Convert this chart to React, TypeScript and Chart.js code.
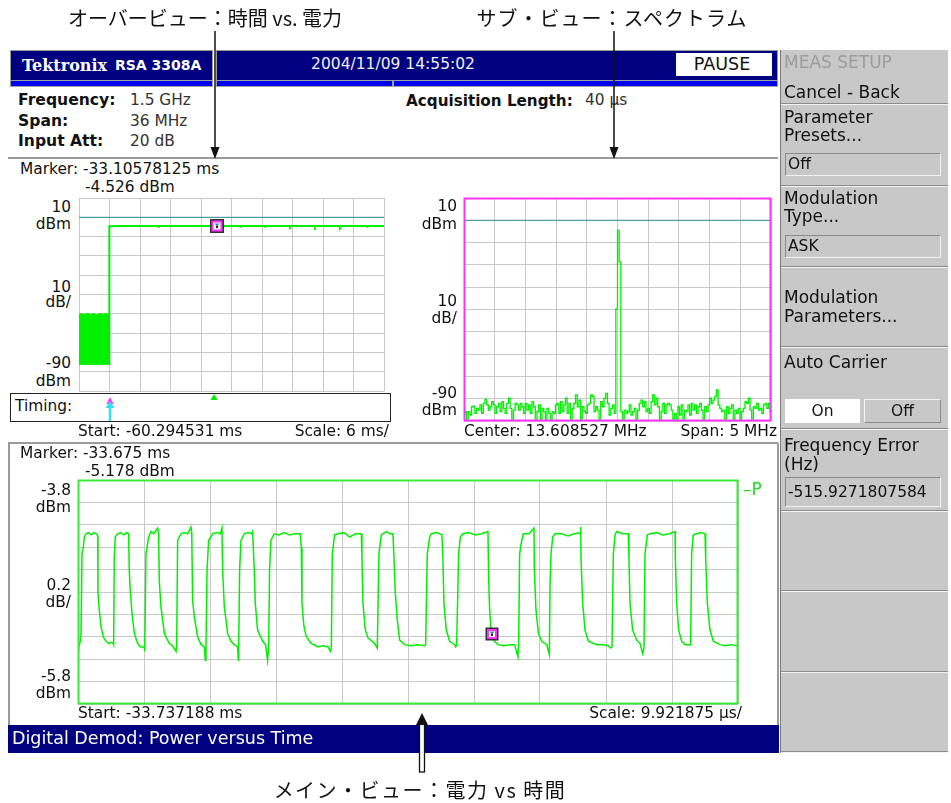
import React, { useEffect, useRef } from "react";
import { Chart, registerables } from "chart.js";
Chart.register(...registerables);

const GREEN = "#00f000";
const GRID = "#c8c8c8";
const TEAL = "#2f8f96";
const MAGENTA = "#ff33ff";
const NAVY = "#000080";

// ---------- Overview: time vs power ----------
const overviewStartMs = -60.294531;
const overviewMsPerDiv = 6;
const overviewTopDbm = 10;
const overviewDbPerDiv = 10;
const referenceLevelDbm = 0;
const overviewNoiseUpper: [number, number][] = [
  [-60.29, -50.5], [-59.8, -49.9], [-59.2, -50.4], [-58.6, -49.8], [-58.0, -50.3], [-57.4, -49.9],
  [-56.8, -50.5], [-56.2, -49.8], [-55.6, -50.2], [-55.0, -49.9], [-54.38, -50.4],
];
const overviewNoiseLower: [number, number][] = [[-60.29, -76.2], [-54.38, -76.2]];
const overviewTrace: [number, number][] = [
  [-54.36, -76.0], [-54.33, -4.6], [-52.0, -4.5], [-48.0, -4.5], [-44.9, -4.5], [-44.75, -4.9], [-44.6, -4.5],
  [-38.0, -4.5], [-33.1, -4.53], [-28.7, -4.5], [-28.6, -4.9], [-28.5, -4.5], [-23.8, -4.5], [-23.7, -4.9],
  [-23.6, -4.5], [-18.9, -4.5], [-18.8, -4.9], [-18.7, -4.5], [-13.95, -4.5], [-13.87, -4.9], [-13.8, -4.5],
  [-9.05, -4.5], [-8.96, -4.9], [-8.9, -4.5], [-3.7, -4.5], [-3.6, -4.9], [-3.5, -4.5], [-0.2945, -4.5],
];
const overviewMarkerMs = -33.10578125;
const overviewMarkerDbm = -4.526;

// ---------- Sub view: spectrum ----------
const spectrumCenterMHz = 13.608527;
const spectrumSpanMHz = 5;
const spectrumTopDbm = 10;
const spectrumDbPerDiv = 10;
const spectrumDbm: number[] = [
  -86.6, -85.8, -89.2, -85.8, -87.3, -83.6, -83.3, -86.6, -84.3, -85.1,
  -82.8, -86.6, -82.1, -80.3, -82.8, -85.1, -83.6, -81.3, -82.8, -86.6,
  -83.6, -82.1, -85.8, -81.3, -84.3, -86.6, -82.1, -79.8, -84.3, -89.2,
  -85.1, -82.1, -82.8, -85.1, -82.1, -83.6, -86.6, -82.1, -85.1, -82.8,
  -86.6, -81.3, -83.6, -89.2, -85.8, -82.8, -89.2, -84.3, -85.8, -89.2,
  -84.3, -86.6, -89.6, -85.8, -86.6, -82.8, -82.1, -86.6, -81.3, -85.8,
  -82.8, -79.8, -86.6, -82.1, -89.2, -84.3, -82.1, -78.3, -83.6, -80.6,
  -89.2, -83.6, -85.8, -86.6, -82.8, -82.1, -78.3, -79.1, -85.8, -83.6,
  -85.1, -89.2, -81.3, -83.6, -79.8, -77.6, -82.1, -87.3, -84.3, -82.8,
  -86.6,
  -39.7, -4.5, -18.6,
  -85.8, -89.2, -85.1, -86.6, -85.8, -82.8, -87.3, -85.8, -84.3, -89.2,
  -85.1, -82.1, -80.6, -83.6, -81.3, -85.8, -84.3, -86.6, -81.3, -78.3,
  -82.8, -79.8, -83.6, -89.2, -85.8, -82.1, -86.6, -82.8, -82.1, -82.8,
  -85.1, -89.2, -86.6, -89.2, -83.6, -87.3, -82.8, -89.2, -85.1, -85.8,
  -82.8, -87.3, -82.1, -85.1, -82.8, -86.6, -83.6, -82.1, -85.1, -89.2,
  -83.6, -85.8, -82.8, -79.8, -82.1, -80.6, -79.1, -76.1, -82.8, -84.3,
  -85.8, -85.1, -89.2, -83.6, -86.6, -84.3, -82.8, -89.2, -85.1, -86.6,
  -84.3, -89.2, -85.8, -84.3, -81.3, -82.1, -79.8, -85.1, -89.2, -83.6,
  -84.3, -82.1, -85.1, -84.3, -86.6, -82.8, -82.1, -84.3, -82.1, -85.8,
];

// ---------- Main view: power vs time ----------
const mainStartMs = -33.737188;
const mainUsPerDiv = 9.921875;
const mainTopDbm = -3.8;
const mainDbPerDiv = 0.2;
const mainMarkerMs = -33.675;
const mainMarkerDbm = -5.178;
// [time after start (µs), power (dBm)]
const mainTrace: [number, number][] = [
  [0.0, -5.27], [0.1, -5.29], [0.3, -5.25], [0.45, -5.2], [0.6, -4.46], [0.8, -4.4], [0.95, -4.31], [1.2, -4.28], [1.6, -4.27], [2.0, -4.29], [2.4, -4.27], [2.8, -4.28], [2.96, -4.3],
  [3.0, -4.8], [3.2, -4.96], [3.46, -5.11], [3.8, -5.2], [4.2, -5.24], [4.6, -5.26], [5.0, -5.25], [5.3, -5.26],
  [5.36, -5.27], [5.45, -4.5], [5.6, -4.31], [5.96, -4.28], [6.4, -4.27], [6.9, -4.29], [7.3, -4.27], [7.62, -4.28],
  [7.7, -4.6], [7.82, -4.75], [8.12, -4.99], [8.47, -5.17], [8.97, -5.26], [9.4, -5.29], [9.97, -5.29], [10.0, -5.33],
  [10.07, -5.3], [10.22, -4.46], [10.62, -4.31], [10.97, -4.26], [11.4, -4.28], [11.97, -4.23], [12.12, -4.27],
  [12.22, -4.7], [12.47, -4.93], [12.98, -5.17], [13.73, -5.26], [14.2, -5.28], [14.63, -5.32], [14.73, -5.33],
  [14.83, -5.3], [14.98, -4.34], [15.48, -4.28], [16.0, -4.27], [16.5, -4.28], [16.98, -4.22], [17.1, -4.27],
  [17.23, -4.87], [17.48, -5.02], [17.98, -5.2], [18.5, -5.27], [18.99, -5.29], [19.14, -5.41],
  [19.24, -5.3], [19.4, -4.6], [19.64, -4.34], [20.24, -4.28], [20.9, -4.27], [21.4, -4.28], [21.64, -4.23],
  [21.74, -4.6], [21.99, -4.93], [22.5, -5.17], [23.0, -5.24], [23.5, -5.27], [24.0, -5.29], [24.1, -5.41],
  [24.15, -5.3], [24.3, -4.6], [24.5, -4.34], [25.0, -4.28], [25.6, -4.27], [26.1, -4.28], [26.25, -4.26],
  [26.5, -4.6], [26.65, -4.9], [27.0, -5.14], [27.76, -5.24], [28.2, -5.27], [28.5, -5.41],
  [28.66, -5.3], [28.8, -4.6], [29.0, -4.34], [29.5, -4.28], [30.2, -4.29], [31.0, -4.27], [31.8, -4.29], [32.6, -4.28], [33.4, -4.28],
  [33.57, -4.4], [33.67, -4.9], [33.97, -5.11], [34.32, -5.2], [35.07, -5.26], [36.08, -5.29], [36.8, -5.28], [37.58, -5.29], [37.93, -5.33],
  [38.08, -5.3], [38.23, -4.46], [38.58, -4.29], [39.08, -4.28], [40.0, -4.27], [40.84, -4.31], [41.7, -4.28], [42.59, -4.28],
  [42.69, -4.5], [42.84, -4.9], [43.19, -5.14], [43.59, -5.21], [44.59, -5.26], [44.99, -5.3],
  [45.09, -5.3], [45.24, -4.46], [45.6, -4.29], [46.35, -4.26], [46.9, -4.28], [47.35, -4.28],
  [47.5, -4.5], [47.7, -4.81], [48.0, -5.05], [48.35, -5.23], [49.1, -5.27], [50.0, -5.28], [51.0, -5.27], [52.11, -5.28],
  [52.26, -5.27], [52.51, -4.46], [52.86, -4.31], [53.11, -4.28], [53.9, -4.27], [54.71, -4.29],
  [54.86, -4.5], [55.01, -4.9], [55.36, -5.14], [55.87, -5.24], [56.62, -5.27], [56.77, -5.29],
  [56.92, -5.28], [57.22, -4.46], [57.47, -4.31], [57.87, -4.28], [58.8, -4.27], [59.7, -4.29], [60.7, -4.28], [61.63, -4.26],
  [61.73, -4.66], [61.88, -4.96], [62.13, -5.17], [62.63, -5.24], [63.13, -5.27], [64.0, -5.28], [65.0, -5.27], [65.64, -5.27], [66.14, -5.38],
  [66.24, -5.28], [66.39, -4.46], [66.7, -4.34], [66.95, -4.28], [67.8, -4.28], [68.55, -4.23],
  [68.6, -4.6], [68.85, -4.96], [69.21, -5.17], [69.71, -5.24], [70.46, -5.27], [70.86, -5.36],
  [70.96, -4.75], [71.11, -4.46], [71.36, -4.31], [71.71, -4.28], [72.7, -4.28], [73.7, -4.3], [74.6, -4.28], [75.47, -4.27], [75.57, -4.22],
  [75.62, -4.5], [75.87, -4.9], [76.22, -5.14], [76.72, -5.24], [77.97, -5.27], [78.9, -5.27], [79.73, -5.28], [80.08, -5.3],
  [80.28, -5.29], [80.48, -4.46], [80.73, -4.29], [80.98, -4.26], [81.9, -4.28], [82.73, -4.28],
  [82.83, -4.5], [82.98, -4.9], [83.38, -5.14], [83.99, -5.23], [84.5, -5.26], [84.89, -5.35],
  [85.09, -5.3], [85.24, -4.46], [85.59, -4.29], [85.99, -4.28], [87.0, -4.27], [87.9, -4.29], [88.9, -4.28], [89.75, -4.26],
  [89.8, -4.5], [90.0, -4.9], [90.3, -5.14], [90.75, -5.24], [91.25, -5.27], [92.0, -5.27],
  [92.1, -5.27], [92.25, -4.46], [92.5, -4.29], [93.0, -4.28], [93.7, -4.27], [94.26, -4.28],
  [94.36, -4.5], [94.61, -4.9], [95.01, -5.14], [95.51, -5.24], [96.51, -5.27], [97.3, -5.28], [98.2, -5.27], [99.02, -5.28], [99.2, -5.27],
];

const DIVS = 10;
const divTicks = (min: number, step: number) =>
  Array.from({ length: DIVS + 1 }, (_, i) => ({ value: min + i * step }));
const pts = (arr: [number, number][]) => arr.map(([x, y]) => ({ x, y }));

function framePlugin(color: string, width: number) {
  return {
    id: "frame",
    afterDatasetsDraw(chart: any) {
      const { ctx, chartArea: a } = chart;
      ctx.save();
      ctx.strokeStyle = color;
      ctx.lineWidth = width;
      ctx.strokeRect(a.left + width / 2 - 0.5, a.top + width / 2 - 0.5, a.right - a.left - width + 1, a.bottom - a.top - width + 1);
      ctx.restore();
    },
  };
}

function markerPlugin(xv: number, yv: number, size: number) {
  return {
    id: "marker",
    afterDraw(chart: any) {
      const { ctx } = chart;
      const x = Math.round(chart.scales.x.getPixelForValue(xv));
      const y = Math.round(chart.scales.y.getPixelForValue(yv));
      const h = size / 2;
      ctx.save();
      ctx.fillStyle = "#303030";
      ctx.fillRect(x - h, y - h, size, size);
      ctx.fillStyle = MAGENTA;
      ctx.fillRect(x - h + 1.5, y - h + 1.5, size - 3, size - 3);
      ctx.fillStyle = "#ffffff";
      ctx.fillRect(x - h + 3.5, y - h + 3.5, size - 7, size - 7);
      ctx.fillStyle = TEAL;
      ctx.beginPath();
      ctx.moveTo(x - 2.5, y - 2.5);
      ctx.lineTo(x + 2.5, y - 2.5);
      ctx.lineTo(x, y + 0.5);
      ctx.closePath();
      ctx.fill();
      ctx.fillStyle = "#202020";
      ctx.beginPath();
      ctx.arc(x, y + 1, 1.2, 0, Math.PI * 2);
      ctx.fill();
      ctx.restore();
    },
  };
}

function makeChart(
  canvas: HTMLCanvasElement,
  datasets: any[],
  xMin: number,
  xStep: number,
  yMin: number,
  yStep: number,
  plugins: any[]
) {
  const axis = (min: number, step: number) => ({
    type: "linear" as const,
    min,
    max: min + DIVS * step,
    afterBuildTicks: (ax: any) => {
      ax.ticks = divTicks(min, step);
    },
    ticks: { display: false },
    grid: { color: GRID, lineWidth: 1, drawTicks: false, tickLength: 0 },
    border: { display: false },
  });
  return new Chart(canvas, {
    type: "line",
    data: { datasets },
    options: {
      animation: false,
      responsive: false,
      maintainAspectRatio: false,
      events: [],
      layout: { padding: 1 },
      elements: { point: { radius: 0 }, line: { tension: 0 } },
      plugins: { legend: { display: false }, tooltip: { enabled: false } },
      scales: { x: axis(xMin, xStep), y: axis(yMin, yStep) },
    },
    plugins,
  } as any);
}

type TP = {
  x: number;
  y: number;
  children: React.ReactNode;
  size?: number;
  color?: string;
  weight?: number | string;
  align?: "left" | "right" | "center";
  font?: string;
  ls?: number;
};
const T = ({ x, y, children, size = 15.4, color = "#111", weight = 400, align = "left", font, ls }: TP) => (
  <div
    style={{
      position: "absolute",
      left: align === "right" ? undefined : x,
      right: align === "right" ? 951 - x : undefined,
      top: y - size * 0.62,
      transform: align === "center" ? "translateX(-50%)" : undefined,
      fontSize: size,
      lineHeight: `${size * 1.2}px`,
      color,
      fontWeight: weight as any,
      whiteSpace: "nowrap",
      fontFamily: font,
      letterSpacing: ls,
    }}
  >
    {children}
  </div>
);

const Box = ({ l, t, w, h, bg, border, style }: any) => (
  <div
    style={{
      position: "absolute",
      left: l,
      top: t,
      width: w,
      height: h,
      background: bg,
      border,
      boxSizing: "border-box",
      ...style,
    }}
  />
);

const Sep = ({ y }: { y: number }) => (
  <>
    <Box l={781} t={y} w={167} h={1} bg="#8a8a8a" />
    <Box l={781} t={y + 1} w={167} h={1} bg="#f4f4f4" />
  </>
);

const MENU = 17;

const Inset = ({ l, t, w, h, bg = "#c8c8c8", children }: any) => (
  <div
    style={{
      position: "absolute",
      left: l,
      top: t,
      width: w,
      height: h,
      background: bg,
      boxSizing: "border-box",
      borderTop: "1px solid #8a8a8a",
      borderLeft: "1px solid #8a8a8a",
      borderRight: "1px solid #f2f2f2",
      borderBottom: "1px solid #f2f2f2",
      fontSize: 15.5,
      lineHeight: `${h - 2}px`,
      paddingLeft: 2,
      color: "#111",
      whiteSpace: "nowrap",
    }}
  >
    {children}
  </div>
);

export default function App() {
  const ovRef = useRef<HTMLCanvasElement>(null);
  const spRef = useRef<HTMLCanvasElement>(null);
  const mnRef = useRef<HTMLCanvasElement>(null);

  useEffect(() => {
    const ovYMin = overviewTopDbm - DIVS * overviewDbPerDiv;
    const ovXMax = overviewStartMs + DIVS * overviewMsPerDiv;
    const ov = makeChart(
      ovRef.current!,
      [
        {
          data: pts([[overviewStartMs, referenceLevelDbm], [ovXMax, referenceLevelDbm]]),
          borderColor: TEAL,
          borderWidth: 1,
        },
        {
          data: pts(overviewNoiseUpper),
          borderColor: GREEN,
          borderWidth: 1,
          backgroundColor: GREEN,
          fill: "+1",
        },
        { data: pts(overviewNoiseLower), borderColor: GREEN, borderWidth: 1 },
        { data: pts(overviewTrace), borderColor: GREEN, borderWidth: 2 },
      ],
      overviewStartMs,
      overviewMsPerDiv,
      ovYMin,
      overviewDbPerDiv,
      [markerPlugin(overviewMarkerMs, overviewMarkerDbm, 14)]
    );

    const spStart = spectrumCenterMHz - spectrumSpanMHz / 2;
    const binMHz = spectrumSpanMHz / (spectrumDbm.length - 1);
    const sp = makeChart(
      spRef.current!,
      [
        {
          data: pts([[spStart, referenceLevelDbm], [spStart + spectrumSpanMHz, referenceLevelDbm]]),
          borderColor: TEAL,
          borderWidth: 1,
        },
        {
          data: spectrumDbm.map((v, i) => ({ x: spStart + i * binMHz, y: v })),
          borderColor: GREEN,
          borderWidth: 1.3,
          stepped: "middle",
        },
      ],
      spStart,
      spectrumSpanMHz / DIVS,
      spectrumTopDbm - DIVS * spectrumDbPerDiv,
      spectrumDbPerDiv,
      [framePlugin(MAGENTA, 2)]
    );

    const markerUs = (mainMarkerMs - mainStartMs) * 1000;
    const mn = makeChart(
      mnRef.current!,
      [{ data: pts(mainTrace), borderColor: GREEN, borderWidth: 1.5 }],
      0,
      mainUsPerDiv,
      mainTopDbm - DIVS * mainDbPerDiv,
      mainDbPerDiv,
      [framePlugin("#33ee33", 2), markerPlugin(markerUs, mainMarkerDbm, 13)]
    );
    return () => {
      ov.destroy();
      sp.destroy();
      mn.destroy();
    };
  }, []);

  const cjk = '"Noto Sans CJK JP", sans-serif';

  return (
    <div
      style={{
        position: "absolute",
        left: 0,
        top: 0,
        width: 951,
        height: 803,
        background: "#fff",
        overflow: "hidden",
        fontFamily: '"DejaVu Sans", sans-serif',
      }}
    >
      {/* Title bar */}
      <Box l={10} t={50} w={203} h={31} bg={NAVY} border="1px solid #9a9a9a" />
      <Box l={216} t={50} w={562} h={31} bg={NAVY} border="1px solid #9a9a9a" />
      <Box l={10} t={80} w={203} h={7} bg="#0000f0" border="1px solid #a0a0a0" />
      <Box l={216} t={80} w={177} h={7} bg="#0000f0" border="1px solid #a0a0a0" />
      <Box l={393} t={80} w={385} h={7} bg="#0000f0" border="1px solid #a0a0a0" />
      <T x={22} y={66} size={16} color="#fff" weight={700} font='"DejaVu Serif", serif'>Tektronix</T>
      <T x={115} y={66} size={14} color="#fff" weight={700}>RSA 3308A</T>
      <T x={393} y={65} size={15.5} color="#f0f0f0" align="center">2004/11/09 14:55:02</T>
      <Box l={676} t={53} w={96} h={23} bg="#fff" />
      <T x={722} y={65} size={17.5} color="#111" align="center">PAUSE</T>

      {/* Settings */}
      <T x={18} y={101} size={15.6} weight={700}>Frequency:</T>
      <T x={130} y={101} size={15.4} color="#333">1.5 GHz</T>
      <T x={18} y={122} size={15.6} weight={700}>Span:</T>
      <T x={130} y={122} size={15.4} color="#333">36 MHz</T>
      <T x={18} y={142} size={15.6} weight={700}>Input Att:</T>
      <T x={130} y={142} size={15.4} color="#333">20 dB</T>
      <T x={406} y={101} size={15.2} weight={700}>Acquisition Length:</T>
      <T x={585} y={101} size={15.4} color="#333">40 µs</T>
      <Box l={8} t={157} w={770} h={2} bg="#9a9a9a" />

      {/* Overview */}
      <T x={20} y={170}>Marker: -33.10578125 ms</T>
      <T x={85} y={188}>-4.526 dBm</T>
      <T x={71} y={208} align="right">10</T>
      <T x={71} y={225} align="right">dBm</T>
      <T x={71} y={288} align="right">10</T>
      <T x={71} y={303} align="right">dB/</T>
      <T x={71} y={364} align="right">-90</T>
      <T x={71} y={382} align="right">dBm</T>
      <canvas ref={ovRef} width={307} height={195} style={{ position: "absolute", left: 78, top: 197 }} />
      <Box l={10} t={393} w={381} h={29} border="1.5px solid #222" />
      <T x={15} y={407}>Timing:</T>
      <svg width={951} height={803} style={{ position: "absolute", left: 0, top: 0, pointerEvents: "none" }}>
        <polygon points="110,397 106.5,404 113.5,404" fill="#ff33ff" />
        <line x1={110} y1={404} x2={110} y2={421} stroke="#33e0f0" strokeWidth={2.5} />
        <polygon points="110,401 105.5,408 114.5,408" fill="#33e0f0" />
        <polygon points="214,394 210.5,400 217.5,400" fill={GREEN} />
      </svg>
      <T x={78} y={432}>Start: -60.294531 ms</T>
      <T x={389} y={432} align="right">Scale: 6 ms/</T>

      {/* Spectrum */}
      <T x={457} y={207} align="right">10</T>
      <T x={457} y={225} align="right">dBm</T>
      <T x={457} y={302} align="right">10</T>
      <T x={457} y={319} align="right">dB/</T>
      <T x={457} y={394} align="right">-90</T>
      <T x={457} y={411} align="right">dBm</T>
      <canvas ref={spRef} width={309} height={225} style={{ position: "absolute", left: 463, top: 197 }} />
      <T x={464} y={432}>Center: 13.608527 MHz</T>
      <T x={777} y={432} align="right">Span: 5 MHz</T>
      <Box l={8} t={442} w={770} h={2} bg="#9a9a9a" />

      {/* Main view */}
      <Box l={8} t={443} w={1.5} h={282} bg="#9a9a9a" />
      <Box l={777} t={443} w={1.5} h={282} bg="#9a9a9a" />
      <T x={20} y={454}>Marker: -33.675 ms</T>
      <T x={85} y={472}>-5.178 dBm</T>
      <T x={71} y={491} align="right">-3.8</T>
      <T x={71} y={508} align="right">dBm</T>
      <T x={71} y={586} align="right">0.2</T>
      <T x={71} y={603} align="right">dB/</T>
      <T x={71} y={677} align="right">-5.8</T>
      <T x={71} y={694} align="right">dBm</T>
      <canvas ref={mnRef} width={662} height={226} style={{ position: "absolute", left: 77, top: 479 }} />
      <T x={743} y={490} size={17} color="#22dd22">–P</T>
      <T x={78} y={714}>Start: -33.737188 ms</T>
      <T x={742} y={714} align="right">Scale: 9.921875 µs/</T>
      <Box l={8} t={725} w={771} h={28} bg={NAVY} />
      <T x={12} y={739} size={17.5} color="#fff">Digital Demod: Power versus Time</T>

      {/* Right menu */}
      <Box l={780} t={50} w={168} h={703} bg="#c8c8c8" />
      <Box l={780} t={50} w={1} h={703} bg="#7a7a7a" />
      <T x={784} y={63} size={MENU} color="#9c9c9c">MEAS SETUP</T>
      <T x={784} y={93} size={MENU}>Cancel - Back</T>
      <Sep y={103} />
      <T x={784} y={118} size={MENU}>Parameter</T>
      <T x={784} y={136} size={MENU}>Presets...</T>
      <Inset l={785} t={153} w={156} h={23}>Off</Inset>
      <Sep y={185} />
      <T x={784} y={199} size={MENU}>Modulation</T>
      <T x={784} y={217} size={MENU}>Type...</T>
      <Inset l={785} t={235} w={156} h={23}>ASK</Inset>
      <Sep y={266} />
      <T x={784} y={298} size={MENU}>Modulation</T>
      <T x={784} y={317} size={MENU}>Parameters...</T>
      <Sep y={346} />
      <T x={784} y={363} size={MENU}>Auto Carrier</T>
      <div
        style={{
          position: "absolute", left: 785, top: 399, width: 75, height: 24, background: "#fff",
          fontSize: 15.5, lineHeight: "24px", textAlign: "center", color: "#111",
        }}
      >
        On
      </div>
      <div
        style={{
          position: "absolute", left: 864, top: 399, width: 77, height: 24, boxSizing: "border-box",
          borderTop: "1px solid #f2f2f2", borderLeft: "1px solid #f2f2f2", borderRight: "1px solid #8a8a8a",
          borderBottom: "1px solid #8a8a8a", fontSize: 15.5, lineHeight: "22px", textAlign: "center", color: "#111",
        }}
      >
        Off
      </div>
      <Sep y={428} />
      <T x={784} y={446} size={MENU}>Frequency Error</T>
      <T x={784} y={465} size={MENU}>(Hz)</T>
      <Inset l={785} t={477} w={156} h={30}>-515.9271807584</Inset>
      <Sep y={510} />
      <Sep y={590} />
      <Sep y={671} />
      <Sep y={751} />

      {/* Annotations */}
      <T x={205} y={18} size={20} color="#111" align="center" font={cjk}>オーバービュー：時間 vs. 電力</T>
      <T x={612} y={18} size={20} color="#111" align="center" font={cjk} ls={1}>サブ・ビュー：スペクトラム</T>
      <T x={420} y={790} size={20} color="#111" align="center" font={cjk} ls={1.5}>メイン・ビュー：電力 vs 時間</T>
      <svg width={951} height={803} style={{ position: "absolute", left: 0, top: 0, pointerEvents: "none" }}>
        <line x1={215} y1={31} x2={215} y2={150} stroke="#111" strokeWidth={1.5} />
        <polygon points="210.5,147 219.5,147 215,159" fill="#111" />
        <line x1={614} y1={31} x2={614} y2={150} stroke="#111" strokeWidth={1.5} />
        <polygon points="609.5,147 618.5,147 614,159" fill="#111" />
        <rect x={419.5} y={722} width={5} height={50} fill="#fff" stroke="#111" strokeWidth={1.3} />
        <polygon points="422,713 416,725 428,725" fill="#111" />
      </svg>
    </div>
  );
}
